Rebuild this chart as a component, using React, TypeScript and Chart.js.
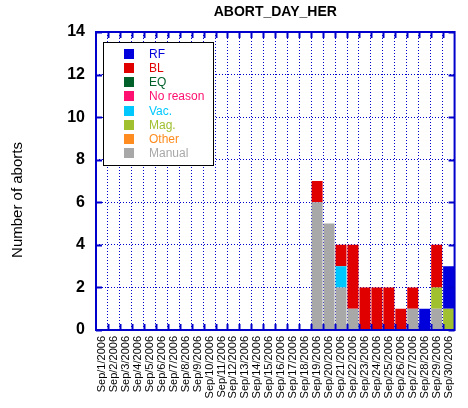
import React, { useEffect, useRef } from "react";
import { Chart, registerables } from "chart.js";

Chart.register(...registerables);

const chartTitle = "ABORT_DAY_HER";
const yAxisTitle = "Number of aborts";

const days = [
  "Sep/1/2006", "Sep/2/2006", "Sep/3/2006", "Sep/4/2006", "Sep/5/2006",
  "Sep/6/2006", "Sep/7/2006", "Sep/8/2006", "Sep/9/2006", "Sep/10/2006",
  "Sep/11/2006", "Sep/12/2006", "Sep/13/2006", "Sep/14/2006", "Sep/15/2006",
  "Sep/16/2006", "Sep/17/2006", "Sep/18/2006", "Sep/19/2006", "Sep/20/2006",
  "Sep/21/2006", "Sep/22/2006", "Sep/23/2006", "Sep/24/2006", "Sep/25/2006",
  "Sep/26/2006", "Sep/27/2006", "Sep/28/2006", "Sep/29/2006", "Sep/30/2006",
];

// legend order (top to bottom)
const seriesNames = ["RF", "BL", "EQ", "No reason", "Vac.", "Mag.", "Other", "Manual"];
const seriesColors = ["#0000DC", "#E00000", "#00602A", "#FF1070", "#00C8FF", "#A0C030", "#FF8C20", "#A8A8A8"];

const rf =       [0,0,0,0,0,0,0,0,0,0, 0,0,0,0,0,0,0,0,0,0, 0,0,0,0,0,0,0,1,0,2];
const bl =       [0,0,0,0,0,0,0,0,0,0, 0,0,0,0,0,0,0,0,1,0, 1,3,2,2,2,1,1,0,2,0];
const eq =       [0,0,0,0,0,0,0,0,0,0, 0,0,0,0,0,0,0,0,0,0, 0,0,0,0,0,0,0,0,0,0];
const noReason = [0,0,0,0,0,0,0,0,0,0, 0,0,0,0,0,0,0,0,0,0, 0,0,0,0,0,0,0,0,0,0];
const vac =      [0,0,0,0,0,0,0,0,0,0, 0,0,0,0,0,0,0,0,0,0, 1,0,0,0,0,0,0,0,0,0];
const mag =      [0,0,0,0,0,0,0,0,0,0, 0,0,0,0,0,0,0,0,0,0, 0,0,0,0,0,0,0,0,1,1];
const other =    [0,0,0,0,0,0,0,0,0,0, 0,0,0,0,0,0,0,0,0,0, 0,0,0,0,0,0,0,0,0,0];
const manual =   [0,0,0,0,0,0,0,0,0,0, 0,0,0,0,0,0,0,0,6,5, 2,1,0,0,0,0,1,0,1,0];

const seriesValues = [rf, bl, eq, noReason, vac, mag, other, manual];

const yMin = 0;
const yMax = 14;
const yStep = 2;

const FONT = "'Liberation Sans', Arial, sans-serif";
const AXIS_BLUE = "#0000CC";

const framePlugin = {
  id: "frameTicks",
  afterDatasetsDraw(chart: any) {
    const { ctx, chartArea } = chart;
    const { left, right, top, bottom } = chartArea;
    const xs = chart.scales.x;
    const ys = chart.scales.y;
    ctx.save();
    ctx.strokeStyle = AXIS_BLUE;
    ctx.lineWidth = 2;
    const tl = 6;
    const n = chart.data.labels.length;
    for (let i = 1; i < n; i++) {
      const x = Math.round((xs.getPixelForTick(i - 1) + xs.getPixelForTick(i)) / 2);
      ctx.beginPath();
      ctx.moveTo(x + 0.5, top);
      ctx.lineTo(x + 0.5, top + tl);
      ctx.moveTo(x + 0.5, bottom);
      ctx.lineTo(x + 0.5, bottom - tl);
      ctx.stroke();
    }
    ys.ticks.forEach((t: any, i: number) => {
      const y = Math.round(ys.getPixelForTick(i));
      ctx.beginPath();
      ctx.moveTo(left, y + 0.5);
      ctx.lineTo(left + tl, y + 0.5);
      ctx.moveTo(right, y + 0.5);
      ctx.lineTo(right - tl, y + 0.5);
      ctx.stroke();
    });
    ctx.strokeRect(left, top, right - left, bottom - top);
    ctx.restore();
  },
};

const legendPlugin = {
  id: "insideLegend",
  afterDatasetsDraw(chart: any) {
    const { ctx, chartArea } = chart;
    const bx = chartArea.left + 7.5;
    const by = chartArea.top + 10.5;
    const bw = 110;
    const bh = 123;
    ctx.save();
    ctx.fillStyle = "#FFFFFF";
    ctx.fillRect(bx, by, bw, bh);
    ctx.strokeStyle = "#000000";
    ctx.lineWidth = 1;
    ctx.strokeRect(bx, by, bw, bh);
    ctx.font = `12px ${FONT}`;
    ctx.textBaseline = "middle";
    ctx.textAlign = "left";
    seriesNames.forEach((name, i) => {
      const sy = Math.round(by + 6.5 + i * 14.15);
      ctx.fillStyle = seriesColors[i];
      ctx.fillRect(Math.round(bx + 20.5), sy, 10, 10);
      ctx.fillText(name, bx + 45.5, sy + 5.5);
    });
    ctx.restore();
  },
};

const textPlugin = {
  id: "texts",
  afterDraw(chart: any) {
    const { ctx, chartArea } = chart;
    ctx.save();
    ctx.font = `bold 14px ${FONT}`;
    ctx.fillStyle = "#000000";
    ctx.textAlign = "center";
    ctx.textBaseline = "middle";
    ctx.fillText(chartTitle, (chartArea.left + chartArea.right) / 2, 12);
    ctx.translate(18, 200);
    ctx.rotate(-Math.PI / 2);
    ctx.font = `15px ${FONT}`;
    ctx.fillText(yAxisTitle, 0, 0);
    ctx.restore();
  },
};

export default function App() {
  const ref = useRef<HTMLCanvasElement | null>(null);
  useEffect(() => {
    if (!ref.current) return;
    // datasets in stacking order: bottom (Manual) to top (RF)
    const datasets = seriesNames
      .map((name, i) => ({
        label: name,
        data: seriesValues[i],
        backgroundColor: seriesColors[i],
        borderWidth: 0,
        barPercentage: 1,
        categoryPercentage: 11 / 12,
      }))
      .reverse();
    const chart = new Chart(ref.current, {
      type: "bar",
      data: { labels: days, datasets },
      options: {
        responsive: false,
        animation: false,
        devicePixelRatio: 1,
        layout: { padding: { top: 32, right: 12, left: 0, bottom: 0 } },
        plugins: {
          legend: { display: false },
          title: { display: false },
          tooltip: { enabled: false },
        },
        scales: {
          x: {
            stacked: true,
            grid: {
              color: AXIS_BLUE,
              lineWidth: 1,
              drawTicks: false,
              offset: true,
            },
            border: { display: false, dash: [1, 2] },
            ticks: {
              autoSkip: false,
              maxRotation: 90,
              minRotation: 90,
              padding: 6,
              color: "#000000",
              font: { family: FONT, size: 11 },
            },
            afterFit(scale: any) {
              scale.height = 78;
            },
          },
          y: {
            stacked: true,
            min: yMin,
            max: yMax,
            grid: { color: AXIS_BLUE, lineWidth: 1, drawTicks: false },
            border: { display: false, dash: [1, 2] },
            ticks: {
              stepSize: yStep,
              padding: 11,
              color: "#000000",
              font: { family: FONT, size: 16, weight: "bold" },
            },
            afterFit(scale: any) {
              scale.width = 96;
            },
          },
        },
      },
      plugins: [framePlugin, legendPlugin, textPlugin],
    } as any);
    return () => chart.destroy();
  }, []);
  return (
    <div style={{ position: "absolute", left: 0, top: 0, width: 468, height: 408, background: "#fff" }}>
      <canvas ref={ref} width={468} height={408} style={{ display: "block" }} />
    </div>
  );
}
